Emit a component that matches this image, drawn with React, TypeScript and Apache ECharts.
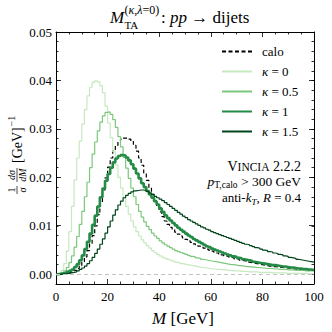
import React, { useEffect, useRef } from 'react';
import * as echarts from 'echarts';

// Bin width 1 GeV, bins [i, i+1) for i = 0..99
const BIN_LEFT_EDGES_START = 0;
const N_BINS = 100;

const SERIES_NAMES = ['calo', 'κ = 0', 'κ = 0.5', 'κ = 1', 'κ = 1.5'];

const CALO = [
  0, 0, 0.0001, 0.0002, 0.0003, 0.0004, 0.0006, 0.0008, 0.0012, 0.0018,
  0.0026, 0.0036, 0.0049, 0.0064, 0.0080, 0.0100, 0.0123, 0.0148, 0.0174, 0.0199,
  0.0221, 0.0240, 0.0255, 0.0266, 0.0274, 0.0279, 0.0281, 0.0281, 0.0279, 0.0274,
  0.0266, 0.0254, 0.0240, 0.0225, 0.0209, 0.0194, 0.0179, 0.0165, 0.0152, 0.0140,
  0.0129, 0.0119, 0.0110, 0.0103, 0.0097, 0.0092, 0.0087, 0.0083, 0.0079, 0.0075,
  0.0072, 0.0069, 0.0066, 0.0063, 0.0061, 0.0058, 0.0056, 0.0054, 0.0052, 0.0050,
  0.0048, 0.0046, 0.0044, 0.0042, 0.0040, 0.0038, 0.0037, 0.0035, 0.0034, 0.0032,
  0.0031, 0.0029, 0.0028, 0.0027, 0.0025, 0.0024, 0.0023, 0.0022, 0.0021, 0.0020,
  0.0019, 0.0018, 0.0017, 0.0016, 0.0016, 0.0015, 0.0014, 0.0014, 0.0013, 0.0013,
  0.0012, 0.0011, 0.0011, 0.0010, 0.0010, 0.0009, 0.0009, 0.0009, 0.0008, 0.0008,
];

const K0 = [
  0, 0.0002, 0.0008, 0.0022, 0.0048, 0.0088, 0.0140, 0.0195, 0.0240, 0.0275,
  0.0310, 0.0340, 0.0368, 0.0386, 0.0396, 0.0399, 0.0397, 0.0389, 0.0375, 0.0347,
  0.0312, 0.0282, 0.0253, 0.0226, 0.0200, 0.0178, 0.0158, 0.0140, 0.0124, 0.0110,
  0.0098, 0.0088, 0.0079, 0.0071, 0.0065, 0.0059, 0.0054, 0.0049, 0.0045, 0.0041,
  0.0038, 0.0035, 0.0033, 0.0031, 0.0029, 0.0027, 0.0025, 0.0024, 0.0022, 0.0021,
  0.0020, 0.0019, 0.0018, 0.0017, 0.0016, 0.0015, 0.0014, 0.0013, 0.0013, 0.0012,
  0.0011, 0.0011, 0.0010, 0.0010, 0.0009, 0.0009, 0.0008, 0.0008, 0.0007, 0.0007,
  0.0007, 0.0006, 0.0006, 0.0006, 0.0005, 0.0005, 0.0005, 0.0005, 0.0004, 0.0004,
  0.0004, 0.0004, 0.0004, 0.0003, 0.0003, 0.0003, 0.0003, 0.0003, 0.0003, 0.0002,
  0.0002, 0.0002, 0.0002, 0.0002, 0.0002, 0.0002, 0.0002, 0.0001, 0.0001, 0.0001,
];

const K05 = [
  0, 0.0001, 0.0003, 0.0007, 0.0014, 0.0024, 0.0038, 0.0056, 0.0078, 0.0103,
  0.0130, 0.0160, 0.0190, 0.0220, 0.0248, 0.0273, 0.0296, 0.0314, 0.0327, 0.0334,
  0.0335, 0.0330, 0.0319, 0.0303, 0.0284, 0.0263, 0.0241, 0.0219, 0.0198, 0.0178,
  0.0160, 0.0144, 0.0130, 0.0118, 0.0108, 0.0099, 0.0092, 0.0085, 0.0079, 0.0074,
  0.0069, 0.0065, 0.0061, 0.0058, 0.0055, 0.0052, 0.0049, 0.0047, 0.0045, 0.0043,
  0.0041, 0.0039, 0.0037, 0.0036, 0.0034, 0.0033, 0.0031, 0.0030, 0.0029, 0.0028,
  0.0027, 0.0026, 0.0025, 0.0024, 0.0023, 0.0022, 0.0021, 0.0020, 0.0020, 0.0019,
  0.0018, 0.0018, 0.0017, 0.0016, 0.0016, 0.0015, 0.0015, 0.0014, 0.0014, 0.0013,
  0.0013, 0.0012, 0.0012, 0.0012, 0.0011, 0.0011, 0.0010, 0.0010, 0.0010, 0.0009,
  0.0009, 0.0009, 0.0008, 0.0008, 0.0008, 0.0008, 0.0007, 0.0007, 0.0007, 0.0007,
];

const K1 = [
  0, 0.0001, 0.0002, 0.0003, 0.0005, 0.0007, 0.0010, 0.0015, 0.0021, 0.0029,
  0.0039, 0.0052, 0.0067, 0.0084, 0.0102, 0.0121, 0.0140, 0.0159, 0.0177, 0.0193,
  0.0207, 0.0220, 0.0231, 0.0239, 0.0244, 0.0246, 0.0245, 0.0241, 0.0235, 0.0227,
  0.0218, 0.0208, 0.0198, 0.0188, 0.0180, 0.0172, 0.0165, 0.0158, 0.0151, 0.0144,
  0.0136, 0.0129, 0.0122, 0.0116, 0.0111, 0.0106, 0.0101, 0.0096, 0.0092, 0.0088,
  0.0084, 0.0080, 0.0077, 0.0073, 0.0070, 0.0067, 0.0064, 0.0061, 0.0058, 0.0056,
  0.0053, 0.0051, 0.0049, 0.0047, 0.0045, 0.0043, 0.0041, 0.0039, 0.0037, 0.0036,
  0.0034, 0.0033, 0.0031, 0.0030, 0.0029, 0.0028, 0.0026, 0.0025, 0.0024, 0.0023,
  0.0022, 0.0021, 0.0020, 0.0019, 0.0019, 0.0018, 0.0017, 0.0016, 0.0016, 0.0015,
  0.0014, 0.0014, 0.0013, 0.0012, 0.0012, 0.0011, 0.0011, 0.0010, 0.0010, 0.0009,
];

const K15 = [
  0, 0, 0.0001, 0.0001, 0.0002, 0.0003, 0.0004, 0.0005, 0.0007, 0.0010,
  0.0013, 0.0017, 0.0022, 0.0028, 0.0035, 0.0043, 0.0052, 0.0062, 0.0073, 0.0085,
  0.0098, 0.0110, 0.0122, 0.0133, 0.0143, 0.0151, 0.0158, 0.0163, 0.0167, 0.0170,
  0.0172, 0.0173, 0.0174, 0.0174, 0.0173, 0.0171, 0.0168, 0.0165, 0.0161, 0.0158,
  0.0155, 0.0152, 0.0148, 0.0144, 0.0140, 0.0136, 0.0132, 0.0128, 0.0124, 0.0120,
  0.0117, 0.0113, 0.0110, 0.0107, 0.0104, 0.0101, 0.0098, 0.0096, 0.0093, 0.0091,
  0.0088, 0.0086, 0.0084, 0.0082, 0.0080, 0.0078, 0.0076, 0.0074, 0.0072, 0.0070,
  0.0068, 0.0066, 0.0064, 0.0062, 0.0061, 0.0059, 0.0057, 0.0055, 0.0054, 0.0052,
  0.0050, 0.0049, 0.0047, 0.0046, 0.0044, 0.0043, 0.0041, 0.0040, 0.0038, 0.0037,
  0.0035, 0.0034, 0.0033, 0.0031, 0.0030, 0.0029, 0.0028, 0.0027, 0.0026, 0.0025,
];

const X_TICKS = { min: 0, max: 100, interval: 20 };
const Y_TICKS = { min: 0, max: 0.05, interval: 0.01 };
const Y_RANGE = { min: -0.002, max: 0.05, minorInterval: 0.002 };

const SERIF = 'Liberation Serif, DejaVu Serif, serif';

function toSteps(values: number[]): number[][] {
  const pts = values.map((v, i) => [BIN_LEFT_EDGES_START + i, v]);
  pts.push([BIN_LEFT_EDGES_START + N_BINS, values[values.length - 1]]);
  return pts;
}

const GRID = { left: 56, top: 32, width: 258, height: 252 };
const ZERO_Y = 274; // pixel row of y = 0

export default function App() {
  const ref = useRef<HTMLDivElement>(null);

  useEffect(() => {
    if (!ref.current) return;
    const chart = echarts.init(ref.current, null, { renderer: 'svg' });

    const black = '#000';
    const tickStyle = { color: black, width: 0.8 };
    const xAxisBase = (pos: 'bottom' | 'top', labels: boolean) => ({
      type: 'value',
      gridIndex: 0,
      position: pos,
      min: X_TICKS.min,
      max: X_TICKS.max,
      interval: X_TICKS.interval,
      axisLine: { show: true, onZero: false, lineStyle: { color: black, width: 1 } },
      axisTick: { show: true, inside: true, length: 5, lineStyle: tickStyle },
      minorTick: { show: true, splitNumber: 4, length: 2.5, lineStyle: tickStyle },
      axisLabel: {
        show: labels,
        color: black,
        fontFamily: SERIF,
        fontSize: 13,
        margin: 6,
      },
      splitLine: { show: false },
      minorSplitLine: { show: false },
    });
    const yMinorAxis = (pos: 'left' | 'right') => ({
      type: 'value',
      gridIndex: 0,
      position: pos,
      min: Y_RANGE.min,
      max: Y_RANGE.max,
      interval: Y_RANGE.minorInterval,
      axisLine: { show: true, onZero: false, lineStyle: { color: black, width: 1 } },
      axisTick: { show: true, inside: true, length: 2.5, lineStyle: tickStyle },
      axisLabel: { show: false },
      splitLine: { show: false },
    });
    const yMajorAxis = (pos: 'left' | 'right', labels: boolean) => ({
      type: 'value',
      gridIndex: 1,
      position: pos,
      min: Y_TICKS.min,
      max: Y_TICKS.max,
      interval: Y_TICKS.interval,
      axisLine: { show: false },
      axisTick: { show: true, inside: true, length: 5, lineStyle: tickStyle },
      axisLabel: {
        show: labels,
        color: black,
        fontFamily: SERIF,
        fontSize: 13,
        margin: 4,
        formatter: (v: number) => v.toFixed(2),
      },
      splitLine: { show: false },
    });

    const lineSeries = (name: string, values: number[], color: string, width: number, dashed = false, extra: any = {}) => ({
      type: 'line',
      name,
      xAxisIndex: 0,
      yAxisIndex: 0,
      step: 'end',
      symbol: 'none',
      data: toSteps(values),
      lineStyle: { color, width, type: dashed ? [4, 2.5] : 'solid' },
      itemStyle: { color },
      emphasis: { disabled: true },
      ...extra,
    });

    const rt = (size: number, italic = false, extra: any = {}) => ({
      fontFamily: SERIF,
      fontSize: size,
      fontStyle: italic ? 'italic' : 'normal',
      fill: black,
      ...extra,
    });

    const option: any = {
      animation: false,
      backgroundColor: '#fff',
      grid: [
        { ...GRID, outerBoundsMode: 'none', containLabel: false },
        { left: GRID.left, top: GRID.top, width: GRID.width, height: ZERO_Y - GRID.top, outerBoundsMode: 'none', containLabel: false },
      ],
      xAxis: [
        xAxisBase('bottom', true),
        xAxisBase('top', false),
        { type: 'value', gridIndex: 1, min: X_TICKS.min, max: X_TICKS.max, show: false },
      ],
      yAxis: [yMinorAxis('left'), yMinorAxis('right'), yMajorAxis('left', true), yMajorAxis('right', false)],
      legend: {
        data: SERIES_NAMES,
        orient: 'vertical',
        left: 221,
        top: 45,
        padding: 0,
        itemWidth: 30,
        itemHeight: 12,
        itemGap: 7,
        selectedMode: false,
        itemStyle: { opacity: 0 },
        textStyle: {
          fontFamily: SERIF,
          fontSize: 13,
          color: black,
          lineHeight: 12,
          padding: [0, 0, 0, 5],
          rich: {
            i: { fontFamily: SERIF, fontSize: 13, fontStyle: 'italic', color: black, lineHeight: 12 },
          },
        },
        formatter: (n: string) => n.replace('κ', '{i|κ}'),
      },
      series: [
        lineSeries(SERIES_NAMES[0], CALO, '#000000', 1.2, true, {
          markLine: {
            silent: true,
            symbol: 'none',
            label: { show: false },
            lineStyle: { color: '#c4c4c4', type: [4, 3], width: 1 },
            data: [{ yAxis: 0 }],
          },
          z: 3,
        }),
        lineSeries(SERIES_NAMES[1], K0, '#c7e9c0', 1.2),
        lineSeries(SERIES_NAMES[2], K05, '#7bc87c', 1.2),
        lineSeries(SERIES_NAMES[3], K1, '#238b45', 2.6),
        lineSeries(SERIES_NAMES[4], K15, '#00441b', 1.2),
      ],
      graphic: [
        // Title
        { type: 'text', x: 110, y: 17, style: { text: 'M', font: `italic 17px ${SERIF}`, fill: black, textVerticalAlign: 'middle' } },
        { type: 'text', x: 124.5, y: 24.5, style: { text: 'TA', font: `11px ${SERIF}`, fill: black, textVerticalAlign: 'middle' } },
        {
          type: 'text', x: 124.5, y: 9.5,
          style: {
            text: '{r|(}{i|κ}{r|,}{i|λ}{r|=0)}',
            rich: { r: rt(12), i: rt(12, true) },
            textVerticalAlign: 'middle',
          },
        },
        {
          type: 'text', x: 161, y: 17,
          style: {
            text: '{r|: }{i|pp}{r| → dijets}',
            rich: { r: rt(17), i: rt(17, true) },
            textVerticalAlign: 'middle',
          },
        },
        // x axis label
        {
          type: 'text', x: 183, y: 318,
          style: {
            text: '{i|M}{r| [GeV]}',
            rich: { r: rt(17), i: rt(17, true) },
            textAlign: 'center',
            textVerticalAlign: 'middle',
          },
        },
        // y axis label (rotated)
        {
          type: 'group', x: 17, y: 150, rotation: Math.PI / 2,
          children: [
            { type: 'text', x: -40, y: -5.5, style: { text: '1', font: `10px ${SERIF}`, fill: black, textAlign: 'center', textVerticalAlign: 'middle' } },
            { type: 'line', shape: { x1: -44, y1: 0, x2: -36, y2: 0 }, style: { stroke: black, lineWidth: 0.7 } },
            { type: 'text', x: -40, y: 5.5, style: { text: 'σ', font: `italic 10px ${SERIF}`, fill: black, textAlign: 'center', textVerticalAlign: 'middle' } },
            { type: 'text', x: -25, y: -5.5, style: { text: 'dσ', font: `italic 10px ${SERIF}`, fill: black, textAlign: 'center', textVerticalAlign: 'middle' } },
            { type: 'line', shape: { x1: -32, y1: 0, x2: -18, y2: 0 }, style: { stroke: black, lineWidth: 0.7 } },
            { type: 'text', x: -25, y: 5.5, style: { text: 'dM', font: `italic 10px ${SERIF}`, fill: black, textAlign: 'center', textVerticalAlign: 'middle' } },
            { type: 'text', x: -13, y: 0, style: { text: '[GeV]', font: `14px ${SERIF}`, fill: black, textAlign: 'left', textVerticalAlign: 'middle' } },
            { type: 'text', x: 23.5, y: -6, style: { text: '−1', font: `10px ${SERIF}`, fill: black, textAlign: 'left', textVerticalAlign: 'middle' } },
          ],
        },
        // Annotations
        {
          type: 'text', x: 301, y: 166,
          style: {
            text: '{a|V}{b|INCIA}{a| 2.2.2}',
            rich: { a: rt(14, false, { lineHeight: 16 }), b: rt(11.5, false, { lineHeight: 16, verticalAlign: 'bottom', padding: [0, 0, 1, 0] }) },
            textAlign: 'right',
            textVerticalAlign: 'middle',
          },
        },
        {
          type: 'text', x: 301, y: 181,
          style: {
            text: '{i|p}{s|T,calo}{r| > 300 GeV}',
            rich: {
              r: rt(13.5, false, { lineHeight: 18 }),
              i: rt(13.5, true, { lineHeight: 18 }),
              s: rt(9.5, false, { lineHeight: 9, verticalAlign: 'bottom' }),
            },
            textAlign: 'right',
            textVerticalAlign: 'middle',
          },
        },
        {
          type: 'text', x: 301, y: 197,
          style: {
            text: '{r|anti-}{i|k}{s|T}{r|, }{i|R}{r| = 0.4}',
            rich: {
              r: rt(13, false, { lineHeight: 18 }),
              i: rt(13, true, { lineHeight: 18 }),
              s: rt(9, true, { lineHeight: 9, verticalAlign: 'bottom' }),
            },
            textAlign: 'right',
            textVerticalAlign: 'middle',
          },
        },
      ],
    };

    chart.setOption(option);
    return () => chart.dispose();
  }, []);

  return (
    <div
      ref={ref}
      style={{ position: 'fixed', left: 0, top: 0, width: 332, height: 332, background: '#fff' }}
    />
  );
}
